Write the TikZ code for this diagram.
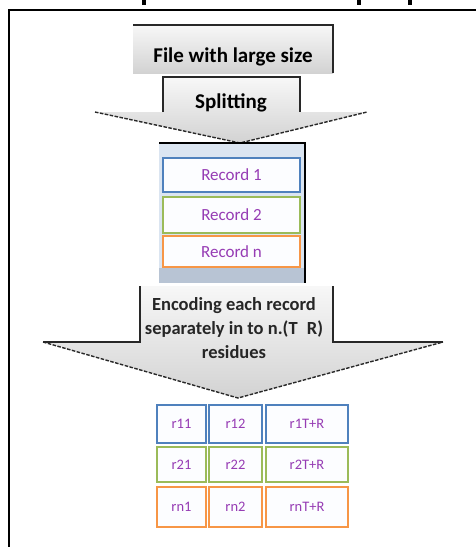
\documentclass[tikz,border=0pt]{standalone}
\usepackage{fontspec}
\setmainfont{Carlito}
\definecolor{recblue}{RGB}{79,129,189}
\definecolor{recgreen}{RGB}{155,187,89}
\definecolor{recorange}{RGB}{247,150,70}
\definecolor{txtpurple}{RGB}{150,60,180}
\definecolor{contfill}{RGB}{219,229,241}
\definecolor{contstrip}{RGB}{184,196,212}
\definecolor{edgedark}{RGB}{40,40,40}
\definecolor{cellfill}{RGB}{252,253,255}
\begin{document}
\begin{tikzpicture}[x=1pt,y=-1pt,
  boxshade/.style={top color=gray!6, bottom color=gray!35},
  solidedge/.style={draw=edgedark, line width=1.3pt},
  dashedge/.style={draw=edgedark, line width=1.4pt, dashed, dash pattern=on 3.5pt off 1.5pt},
  boldtxt/.style={font=\fontsize{21}{24}\selectfont\bfseries, text=black, inner sep=0pt},
  enctxt/.style={font=\fontsize{18.5}{22}\selectfont\bfseries, text=black!85, inner sep=0pt, anchor=base},
  rectxt/.style={font=\fontsize{17}{19}\selectfont, text=txtpurple, inner sep=0pt},
  celltxt/.style={font=\fontsize{14.5}{16}\selectfont, text=txtpurple, inner sep=0pt},
  recbox/.style={draw=#1, line width=2.5pt, fill=cellfill},
]
\useasboundingbox (0,0) rectangle (475,547);
\fill[white] (0,0) rectangle (475,547);

% cut-off title descenders at the top
\fill[black] (142,0) rectangle (146,5);
\fill[black] (357,0) rectangle (361,5);
\fill[black] (408,0) rectangle (412,5);

% frame
\draw[line width=2pt] (9,550) -- (9,10) -- (478,10);

% File box
\shade[boxshade] (133,25) rectangle (333,73);
\draw[solidedge] (133,25) -- (333,25) -- (333,73);
\node[boldtxt, anchor=base] (file) at (233,62) {File with large size};

% Splitting arrow
\shade[boxshade] (163,77) -- (300,77) -- (300,112) -- (367,112) -- (240,143) -- (95,112) -- (163,112) -- cycle;
\draw[solidedge] (163,112) -- (163,77) -- (300,77) -- (300,112);
\draw[dashedge] (95,112) -- (240,143) -- (367,112);
\node[boldtxt, anchor=base] (split) at (231,108) {Splitting};

% Records container
\fill[contfill] (159,143) rectangle (305,283);
\fill[contstrip] (159,268) rectangle (305,283);
\draw[black, line width=1.3pt] (159,143) -- (305,143) -- (305,283);
\draw[recbox=recblue] (163,158) rectangle (300,192);
\draw[recbox=recgreen] (163,197) rectangle (300,233);
\draw[recbox=recorange] (163,236) rectangle (300,267);
\node[rectxt] (rec1) at (231.5,175) {Record 1};
\node[rectxt] (rec2) at (231.5,215) {Record 2};
\node[rectxt] (recn) at (231.5,251.5) {Record n};

% Encoding arrow
\shade[boxshade] (140,286) -- (333,286) -- (333,342) -- (443,342) -- (238,398) -- (43,342) -- (140,342) -- cycle;
\draw[solidedge] (43,342) -- (140,342) -- (140,286);
\draw[solidedge] (333,286) -- (333,342) -- (443,342);
\draw[dashedge] (43,342) -- (238,398) -- (443,342);
\node[enctxt] (enc1) at (234,310) {Encoding each record};
\node[enctxt] (enc2) at (234,334) {separately in to n.(T\enspace R)};
\node[enctxt] (enc3) at (234,358) {residues};

% Residue grid
\draw[recbox=recblue] (157,405) rectangle (206,443);
\draw[recbox=recblue] (209,405) rectangle (262,443);
\draw[recbox=recblue] (266,405) rectangle (348,443);
\draw[recbox=recgreen] (157,447) rectangle (206,482);
\draw[recbox=recgreen] (209,447) rectangle (262,482);
\draw[recbox=recgreen] (266,447) rectangle (348,482);
\draw[recbox=recorange] (157,487) rectangle (206,527);
\draw[recbox=recorange] (209,487) rectangle (262,527);
\draw[recbox=recorange] (266,487) rectangle (348,527);
\node[celltxt] (c11) at (181.5,424) {r11};
\node[celltxt] (c12) at (235.5,424) {r12};
\node[celltxt] (c13) at (307,424) {r1T+R};
\node[celltxt] (c21) at (181.5,464.5) {r21};
\node[celltxt] (c22) at (235.5,464.5) {r22};
\node[celltxt] (c23) at (307,464.5) {r2T+R};
\node[celltxt] (c31) at (181.5,507) {rn1};
\node[celltxt] (c32) at (235.5,507) {rn2};
\node[celltxt] (c33) at (307,507) {rnT+R};
\end{tikzpicture}
\end{document}
